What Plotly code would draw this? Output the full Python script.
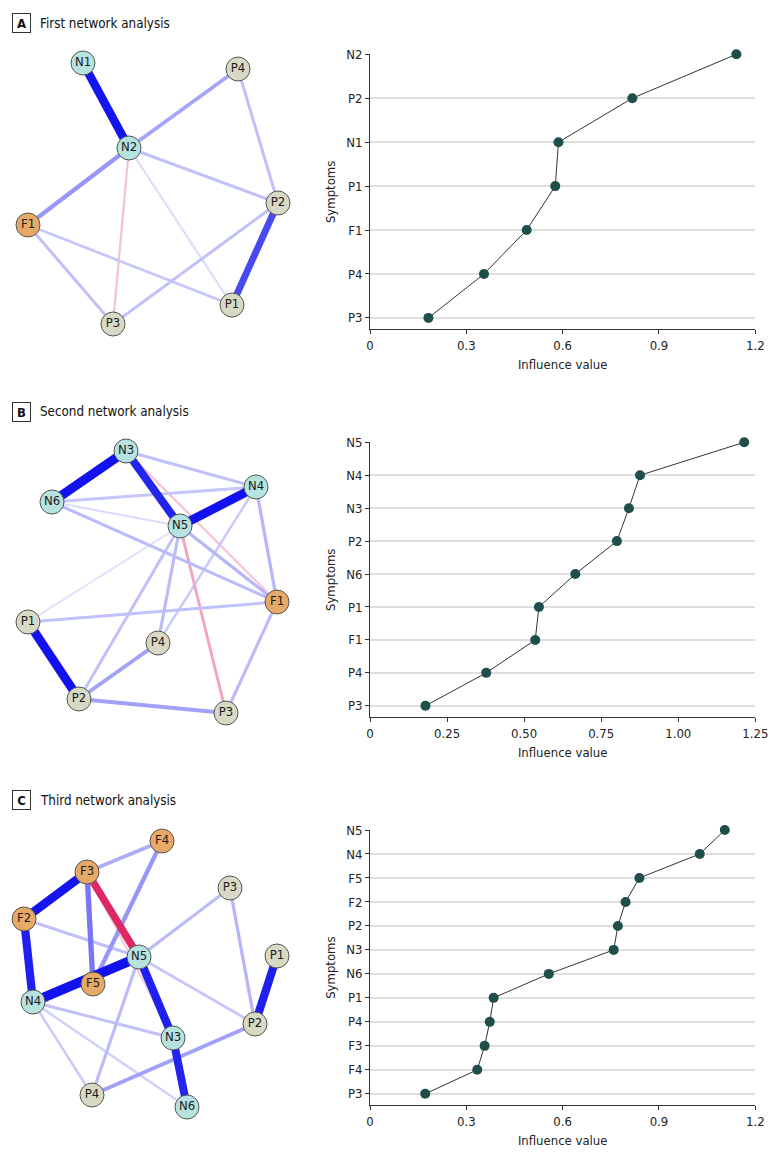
import plotly.graph_objects as go

W, H = 780, 1160
FONT = "DejaVu Sans Condensed, Liberation Sans Narrow, sans-serif"

# ---------------- data: influence (line) panels ----------------
a_symptoms = ["P3", "P4", "F1", "P1", "N1", "P2", "N2"]
a_values = [0.182, 0.355, 0.488, 0.577, 0.587, 0.817, 1.141]

b_symptoms = ["P3", "P4", "F1", "P1", "N6", "P2", "N3", "N4", "N5"]
b_values = [0.180, 0.377, 0.536, 0.548, 0.666, 0.801, 0.840, 0.876, 1.214]

c_symptoms = ["P3", "F4", "F3", "P4", "P1", "N6", "N3", "P2", "F2", "F5", "N4", "N5"]
c_values = [0.172, 0.334, 0.357, 0.373, 0.385, 0.557, 0.759, 0.772, 0.796, 0.839, 1.027, 1.105]

a_xticks = [0, 0.3, 0.6, 0.9, 1.2]
a_xticktext = ["0", "0.3", "0.6", "0.9", "1.2"]
b_xticks = [0, 0.25, 0.5, 0.75, 1.0, 1.25]
b_xticktext = ["0", "0.25", "0.50", "0.75", "1.00", "1.25"]
c_xticks = [0, 0.3, 0.6, 0.9, 1.2]
c_xticktext = ["0", "0.3", "0.6", "0.9", "1.2"]

# ---------------- data: networks (edge weights) ----------------
a_edges = [("N1", "N2", 0.45), ("N2", "P4", 0.17), ("N2", "F1", 0.20), ("N2", "P2", 0.12),
           ("N2", "P3", -0.08), ("N2", "P1", 0.07), ("P4", "P2", 0.12), ("P2", "P1", 0.35),
           ("P2", "P3", 0.12), ("F1", "P1", 0.11), ("F1", "P3", 0.12)]
b_edges = [("N3", "N6", 0.50), ("N3", "N5", 0.42), ("N5", "N4", 0.47), ("N3", "N4", 0.12),
           ("N3", "F1", -0.08), ("N6", "N4", 0.11), ("N6", "N5", 0.07), ("N6", "F1", 0.13),
           ("N5", "F1", 0.14), ("N5", "P1", 0.06), ("N5", "P2", 0.12), ("N5", "P4", 0.13),
           ("N5", "P3", -0.12), ("N4", "F1", 0.14), ("N4", "P4", 0.10), ("P1", "F1", 0.12),
           ("P1", "P2", 0.47), ("P2", "P4", 0.18), ("P2", "P3", 0.18), ("F1", "P3", 0.13)]
c_edges = [("F3", "F4", 0.16), ("F4", "F5", 0.20), ("F3", "F2", 0.45), ("F3", "F5", 0.26),
           ("F3", "N3", -0.07), ("F3", "N5", -0.38), ("F2", "N4", 0.43), ("F2", "N5", 0.12),
           ("N4", "N5", 0.52), ("N5", "N3", 0.43), ("N3", "N6", 0.42), ("N5", "P3", 0.13),
           ("N5", "P2", 0.11), ("N5", "P4", 0.13), ("N4", "N3", 0.12), ("N4", "N6", 0.09),
           ("N4", "P4", 0.10), ("P3", "P2", 0.14), ("P1", "P2", 0.43), ("P2", "P4", 0.18)]

# ---------------- network layouts (pixel-like layout coordinates) ----------------
a_layout = {"N1": (83, 63), "P4": (238, 69), "N2": (129, 148), "P2": (278, 203),
            "F1": (28, 225), "P1": (232, 305), "P3": (113, 324)}
b_layout = {"N3": (126, 451), "N6": (52, 502), "N4": (256, 487), "N5": (180, 526),
            "F1": (277, 602), "P1": (28, 622), "P4": (158, 643), "P2": (79, 699),
            "P3": (226, 713)}
c_layout = {"F4": (162, 841), "F3": (87, 872), "P3": (230, 888), "F2": (24, 919),
            "N5": (139, 957), "P1": (277, 956), "F5": (93, 984), "N4": (33, 1002),
            "P2": (255, 1024), "N3": (173, 1038), "P4": (92, 1095), "N6": (187, 1107)}

NODE_COLORS = {"N": "#b6e2e0", "P": "#d8d9c5", "F": "#e6aa66"}
POS_BASE = (18, 18, 238)
NEG_BASE = (222, 40, 100)


def edge_style(w):
    if w > 0:
        t, base = min(1.0, w * 2.2), POS_BASE
    else:
        t, base = min(1.0, -w * 3.5), NEG_BASE
    rgb = [round(255 * (1 - t) + c * t) for c in base]
    return "rgb(%d,%d,%d)" % tuple(rgb), 0.9 + 17 * abs(w)


fig = go.Figure()


def add_network(edges, layout, xa, ya):
    for a, b, w in sorted(edges, key=lambda e: abs(e[2])):
        col, wid = edge_style(w)
        fig.add_trace(go.Scatter(
            x=[layout[a][0], layout[b][0]], y=[layout[a][1], layout[b][1]],
            mode="lines", line=dict(color=col, width=wid),
            hoverinfo="skip", showlegend=False, xaxis=xa, yaxis=ya))
    names = list(layout.keys())
    fig.add_trace(go.Scatter(
        x=[layout[n][0] for n in names], y=[layout[n][1] for n in names],
        mode="markers+text", text=names, textposition="middle center",
        textfont=dict(family=FONT, size=13, color="#1a1a1a"),
        marker=dict(size=24, color=[NODE_COLORS[n[0]] for n in names],
                    line=dict(color="#555555", width=1)),
        cliponaxis=False, hoverinfo="text", showlegend=False, xaxis=xa, yaxis=ya))


def add_influence(symptoms, values, xa, ya):
    fig.add_trace(go.Scatter(
        x=values, y=symptoms, mode="lines+markers",
        line=dict(color="#333333", width=1),
        marker=dict(size=10, color="#1f4f4d"),
        cliponaxis=False, showlegend=False, xaxis=xa, yaxis=ya))


add_network(a_edges, a_layout, "x", "y")
add_influence(a_symptoms, a_values, "x2", "y2")
add_network(b_edges, b_layout, "x3", "y3")
add_influence(b_symptoms, b_values, "x4", "y4")
add_network(c_edges, c_layout, "x5", "y5")
add_influence(c_symptoms, c_values, "x6", "y6")


def py(p):
    return 1 - p / H


def net_axes(top, bottom):
    xa = dict(domain=[0, 320 / W], range=[0, 320], visible=False, fixedrange=True,
              automargin=False)
    ya = dict(domain=[py(bottom), py(top)], range=[bottom, top], visible=False,
              fixedrange=True, automargin=False)
    return xa, ya


def inf_axes(symptoms, top_px, bottom_px, pad_px, xmax, tickvals, ticktext, anchor_y, anchor_x):
    n = len(symptoms) - 1
    per = (bottom_px - pad_px - top_px) / n
    xa = dict(domain=[370 / W, 755.3 / W], range=[0, xmax], anchor=anchor_y,
              automargin=False,
              tickvals=tickvals, ticktext=ticktext, ticks="outside", ticklen=4,
              tickcolor="#333333", showline=True, linecolor="#333333", linewidth=1,
              showgrid=False, zeroline=False,
              tickfont=dict(family=FONT, size=13, color="#222222"),
              title=dict(text="Influence value", standoff=7,
                         font=dict(family=FONT, size=13, color="#222222")))
    ya = dict(domain=[py(bottom_px), py(top_px)], type="category",
              categoryorder="array", categoryarray=symptoms,
              range=[-pad_px / per, n], anchor=anchor_x, automargin=False,
              ticks="outside", ticklen=4, tickcolor="#333333",
              showline=True, linecolor="#333333", linewidth=1,
              showgrid=True, gridcolor="#dedede", gridwidth=1.5,
              tickfont=dict(family=FONT, size=13, color="#222222"),
              title=dict(text="Symptoms", standoff=7,
                         font=dict(family=FONT, size=13, color="#222222")))
    return xa, ya


x1, y1 = net_axes(40, 340)
x3, y3 = net_axes(428, 730)
x5, y5 = net_axes(818, 1130)
x2, y2 = inf_axes(a_symptoms, 54.3, 329.4, 11.5, 1.2, a_xticks, a_xticktext, "y2", "x2")
x4, y4 = inf_axes(b_symptoms, 442.3, 717.3, 11.5, 1.25, b_xticks, b_xticktext, "y4", "x4")
x6, y6 = inf_axes(c_symptoms, 830.0, 1105.3, 11.5, 1.2, c_xticks, c_xticktext, "y6", "x6")

headers = [("A", "First network analysis", 23.3), ("B", "Second network analysis", 412),
           ("C", "Third network analysis", 800)]
annotations = []
for letter, text, yc in headers:
    annotations.append(dict(
        x=21.2 / W, y=py(yc), xref="paper", yref="paper", text="<b>%s</b>" % letter,
        showarrow=False, font=dict(family=FONT, size=13, color="#111111"),
        bordercolor="#333333", borderwidth=1, borderpad=2, width=13, height=14,
        xanchor="center", yanchor="middle"))
    annotations.append(dict(
        x=38 / W, y=py(yc), xref="paper", yref="paper", text=text,
        showarrow=False, font=dict(family=FONT, size=13.3, color="#111111"),
        xanchor="left", yanchor="middle"))

fig.update_layout(
    template="none",
    width=W, height=H, margin=dict(l=0, r=0, t=0, b=0, pad=0, autoexpand=False),
    paper_bgcolor="white", plot_bgcolor="white",
    xaxis=x1, yaxis=y1, xaxis2=x2, yaxis2=y2, xaxis3=x3, yaxis3=y3,
    xaxis4=x4, yaxis4=y4, xaxis5=x5, yaxis5=y5, xaxis6=x6, yaxis6=y6,
    annotations=annotations, font=dict(family=FONT), hovermode="closest",
)

fig.write_html(
    "out.html",
    config={"displayModeBar": False},
    post_script=(
        "document.documentElement.style.margin='0';"
        "document.documentElement.style.overflow='hidden';"
        "document.body.style.margin='0';document.body.style.padding='0';"
        "document.body.style.overflow='hidden';"
        "var gd=document.getElementById('{plot_id}');"
        "gd.style.position='absolute';gd.style.left='0px';gd.style.top='0px';"
    ),
)
